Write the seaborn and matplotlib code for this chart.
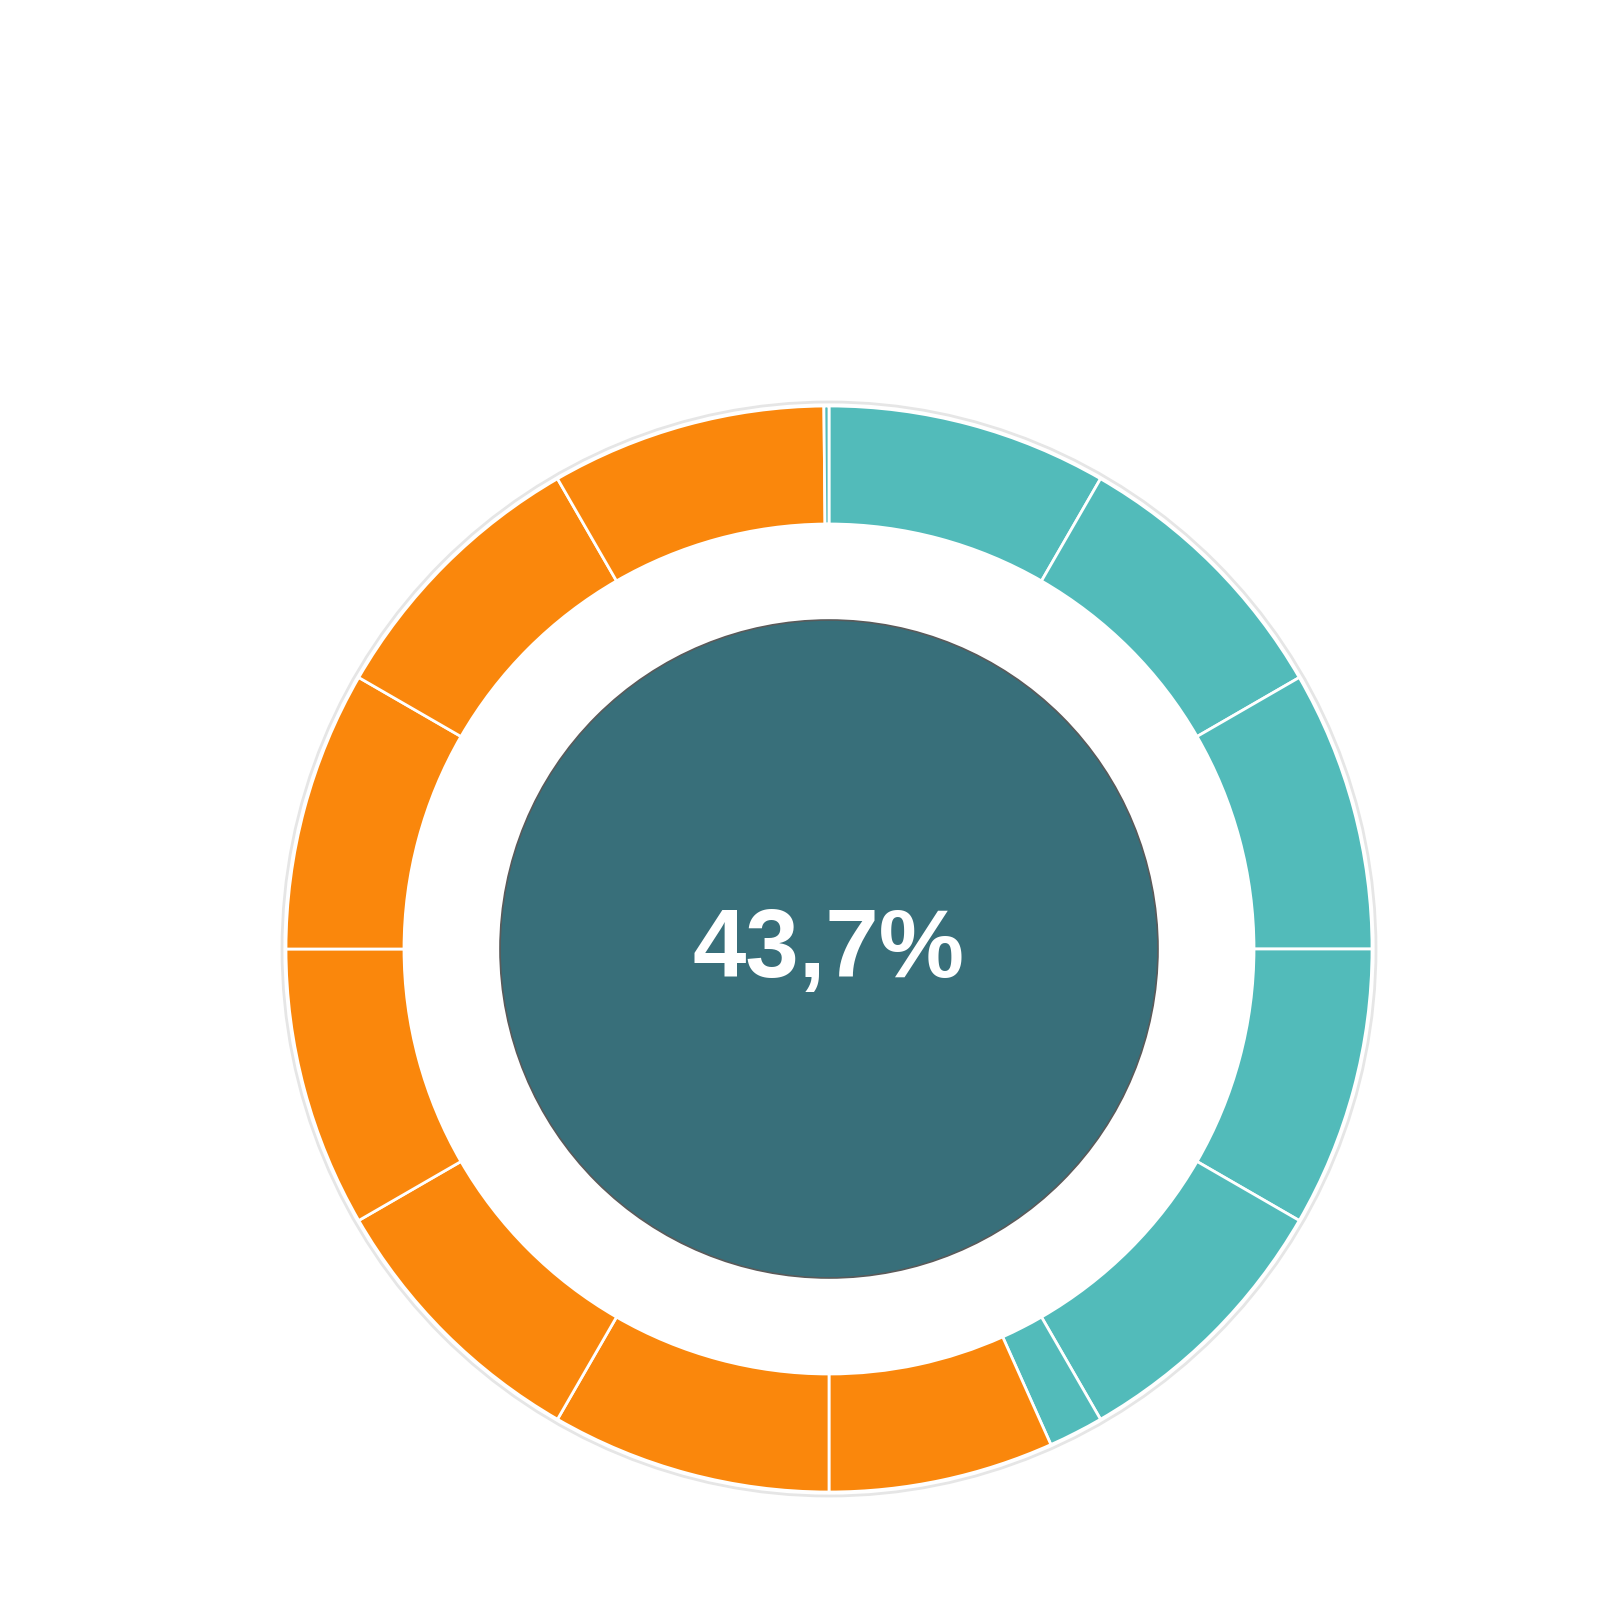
import numpy as np
import seaborn as sns
import matplotlib.pyplot as plt
from matplotlib import font_manager as fm
from matplotlib.patches import Circle

# gauge data
gauge_label = "43,7%"
ring_steps = 12             # equal ticks around the ring
orange_start = 43.3         # where the orange arc begins (percent of the ring, clockwise from top)
orange_end = 99.85          # orange arc stops just short of the top
teal = "#52bbba"
orange = "#fa870c"
core = "#386f7a"

sns.set_theme(style="white")
plt.rcParams["font.family"] = ["Liberation Sans", "DejaVu Sans"]

# pick the Arial-like bold face directly if it is there
bold_files = [f for f in fm.findSystemFonts() if f.endswith("LiberationSans-Bold.ttf")]
label_font = fm.FontProperties(fname=bold_files[0], size=69) if bold_files else \
    fm.FontProperties(family="Liberation Sans", weight="bold", size=69)

# split the ring at every tick and at both ends of the orange arc
cuts = sorted(set([i * 100 / ring_steps for i in range(ring_steps + 1)] + [orange_start, orange_end]))
sizes = np.diff(cuts)
mids = (np.array(cuts[:-1]) + np.array(cuts[1:])) / 2
cols = [orange if orange_start < m < orange_end else teal for m in mids]

fig = plt.figure(figsize=(16, 16), dpi=100)
ax = fig.add_axes([0, 0, 1, 1])
cx, cy = 829, 1600 - 949
ax.pie(sizes, colors=cols, startangle=90, counterclock=False, center=(cx, cy), radius=543,
       wedgeprops=dict(width=118, edgecolor="white", linewidth=2), frame=True)
ax.add_patch(Circle((cx, cy), 547, fill=False, edgecolor="#e6e6e6", linewidth=2))
ax.add_patch(Circle((cx, cy), 329, facecolor=core, edgecolor="#5a5a5a", linewidth=1.2))
ax.text(cx, 1600 - 977, gauge_label, color="white", fontproperties=label_font,
        ha="center", va="baseline")
ax.set_xlim(0, 1600)
ax.set_ylim(0, 1600)
ax.set_aspect("equal")
ax.axis("off")
fig.savefig("out.png", dpi=100, facecolor="white")
